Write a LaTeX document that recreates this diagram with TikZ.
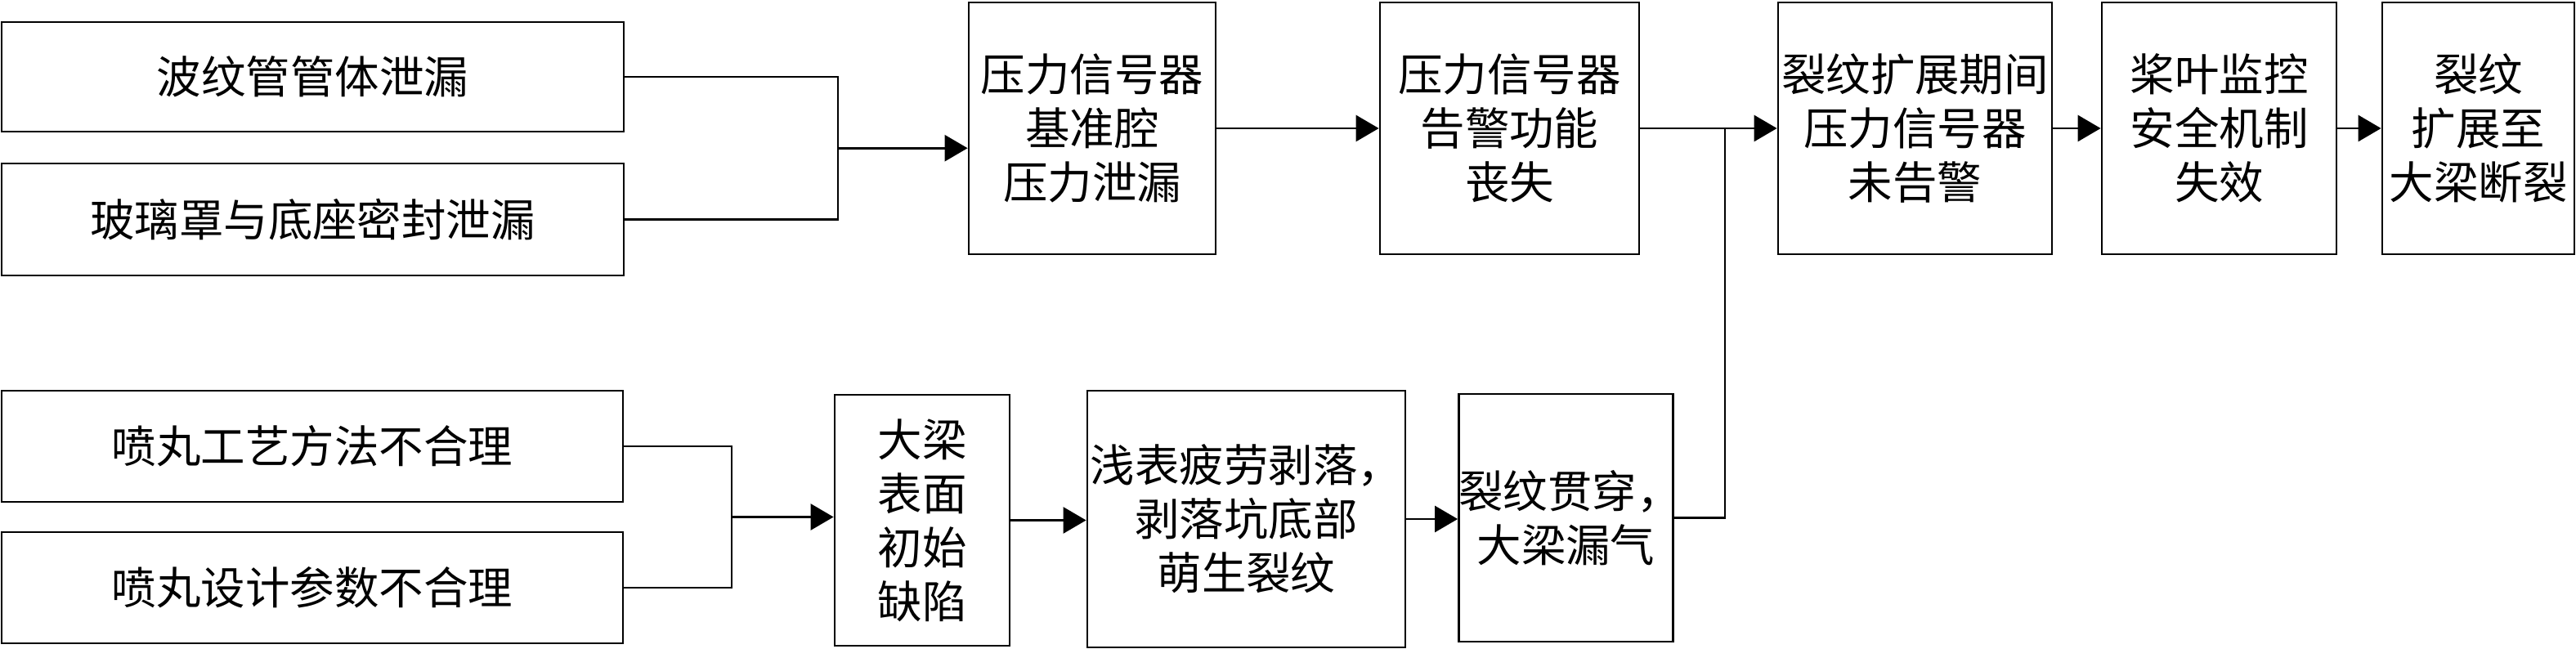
\documentclass[tikz,border=0pt]{standalone}
\usepackage{fontspec}
\newfontfamily\cjk{Noto Sans CJK SC}
\usetikzlibrary{arrows.meta}

\begin{document}
\begin{tikzpicture}[
  box/.style={draw, line width=0.8pt, inner sep=0pt, align=center,
    font=\cjk\fontsize{15.5pt}{18.8pt}\selectfont},
  link/.style={line width=0.8pt},
  arr/.style={line width=0.8pt, -{Triangle[length=0.28cm, width=0.32cm]}}
]
\useasboundingbox (0,0) rectangle (31.51,-7.94);
% Top row
\node[box, text width=7.61cm, minimum height=1.34cm] (leak1) at (3.825,-0.94) {波纹管管体泄漏};
\node[box, text width=7.61cm, minimum height=1.37cm] (leak2) at (3.825,-2.685) {玻璃罩与底座密封泄漏};
\node[box, text width=3.02cm, minimum height=3.08cm] (base) at (13.36,-1.57) {压力信号器\\基准腔\\压力泄漏};
\node[box, text width=3.17cm, minimum height=3.08cm] (alarm) at (18.465,-1.57) {压力信号器\\告警功能\\丧失};
\node[box, text width=3.35cm, minimum height=3.08cm] (noalarm) at (23.425,-1.57) {裂纹扩展期间\\压力信号器\\未告警};
\node[box, text width=2.87cm, minimum height=3.08cm] (monitor) at (27.145,-1.57) {桨叶监控\\安全机制\\失效};
\node[box, text width=2.35cm, minimum height=3.08cm] (fracture) at (30.315,-1.57) {裂纹\\扩展至\\大梁断裂};
% Bottom row
\node[box, text width=7.60cm, minimum height=1.36cm] (shot1) at (3.82,-5.46) {喷丸工艺方法不合理};
\node[box, text width=7.60cm, minimum height=1.36cm] (shot2) at (3.82,-7.19) {喷丸设计参数不合理};
\node[box, text width=2.14cm, minimum height=3.07cm] (defect) at (11.28,-6.365) {大梁\\表面\\初始\\缺陷};
\node[box, text width=3.89cm, minimum height=3.14cm] (spall) at (15.245,-6.35) {浅表疲劳剥落，\\剥落坑底部\\萌生裂纹};
\node[box, text width=2.62cm, minimum height=3.03cm] (crack) at (19.155,-6.335) {裂纹贯穿，\\大梁漏气};
% Connectors
\coordinate (m1) at (10.25,-1.8125);
\coordinate (m2) at (8.95,-6.325);
\coordinate (j) at (21.10,-1.57);
\draw[link] (leak1.east) -| (m1);
\draw[link] (leak2.east) -| (m1);
\draw[arr] (m1) -- (m1 -| base.west);
\draw[arr] (base.east) -- (alarm.west);
\draw[arr] (alarm.east) -- (noalarm.west);
\draw[arr] (noalarm.east) -- (monitor.west);
\draw[arr] (monitor.east) -- (fracture.west);
\draw[link] (shot1.east) -| (m2);
\draw[link] (shot2.east) -| (m2);
\draw[arr] (m2) -- (m2 -| defect.west);
\draw[arr] (defect.east) -- (defect.east -| spall.west);
\draw[arr] (spall.east) -- (spall.east -| crack.west);
\draw[link] (crack.east) -| (j);
\end{tikzpicture}
\end{document}
